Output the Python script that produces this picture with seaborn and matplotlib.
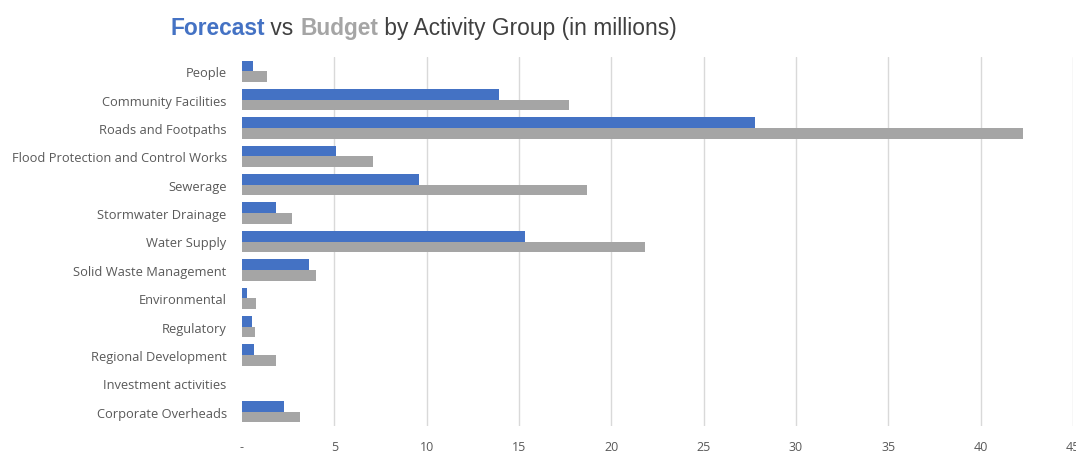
import matplotlib
matplotlib.use("Agg")
import matplotlib.pyplot as plt
import seaborn as sns
import pandas as pd

categories = ["People", "Community Facilities", "Roads and Footpaths",
              "Flood Protection and Control Works", "Sewerage", "Stormwater Drainage",
              "Water Supply", "Solid Waste Management", "Environmental", "Regulatory",
              "Regional Development", "Investment activities", "Corporate Overheads"]
forecast = [0.6, 13.9, 27.8, 5.1, 9.6, 1.85, 15.3, 3.65, 0.27, 0.53, 0.64, 0.0, 2.28]
budget = [1.35, 17.7, 42.3, 7.1, 18.7, 2.7, 21.8, 4.0, 0.77, 0.68, 1.85, 0.0, 3.15]
series = ["Forecast", "Budget"]
xticks = [0, 5, 10, 15, 20, 25, 30, 35, 40, 45]
xticklabels = ["-", "5", "10", "15", "20", "25", "30", "35", "40", "45"]

BLUE = "#4472C4"
GRAY = "#A5A5A5"
TXT = "#595959"

df = pd.DataFrame({
    "category": categories * 2,
    "value": forecast + budget,
    "series": [series[0]] * len(categories) + [series[1]] * len(categories),
})

sns.set_style("white")
plt.rcParams["font.family"] = ["Open Sans", "DejaVu Sans"]

fig = plt.figure(figsize=(10.76, 4.52), dpi=100)
ax = fig.add_axes([242 / 1076, 1 - 427 / 452, (1073 - 242) / 1076, (427 - 58) / 452])

sns.barplot(data=df, x="value", y="category", hue="series", order=categories,
            hue_order=series, palette=[BLUE, GRAY], width=0.75, gap=0,
            saturation=1, legend=False, ax=ax, orient="h", linewidth=0)

ax.set_xlim(0, 45)
ax.set_xticks(xticks)
ax.set_xticklabels(xticklabels)
ax.set_xlabel("")
ax.set_ylabel("")
for s in ax.spines.values():
    s.set_visible(False)
ax.xaxis.grid(True, color="#D9D9D9", linewidth=1.0)
ax.yaxis.grid(False)
ax.set_axisbelow(True)
ax.get_xgridlines()[0].set_visible(False)
ax.tick_params(axis="x", length=0, pad=10, labelsize=9, labelcolor=TXT)
ax.tick_params(axis="y", length=0, pad=11, labelsize=9.3, labelcolor=TXT)

# Title made of coloured pieces
pieces = [("Forecast", BLUE, "bold"), (" vs ", "#404040", "normal"),
          ("Budget", GRAY, "bold"), (" by Activity Group (in millions)", "#404040", "normal")]


def draw_title(size):
    texts = []
    fig.canvas.draw()
    r = fig.canvas.get_renderer()
    x = 170
    for s, c, w in pieces:
        t = fig.text(x / 1076, 1 - 35 / 452, s, color=c, fontweight=w, fontsize=size,
                     family=["Liberation Sans", "DejaVu Sans"], ha="left", va="baseline")
        bb = t.get_window_extent(renderer=r)
        x += bb.width
        texts.append(t)
    return texts, x - 170

texts, w = draw_title(14)
for t in texts:
    t.remove()
texts, w = draw_title(14 * 510 / w)

fig.savefig("out.png", dpi=100, facecolor="white")
